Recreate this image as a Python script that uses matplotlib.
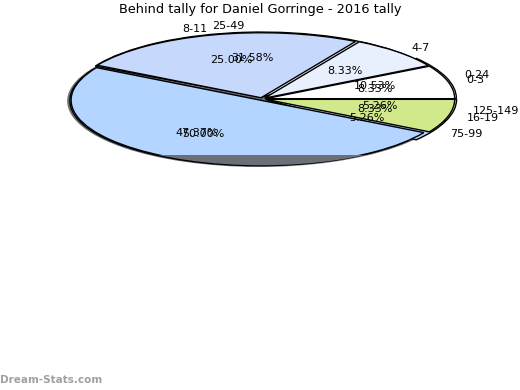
import matplotlib
matplotlib.use("Agg")
import matplotlib.pyplot as plt
from matplotlib.patches import Ellipse, Rectangle

# two tallies drawn on the same pie, as in the source image
labels_a = ["0-3", "4-7", "8-11", "", "16-19"]
values_a = [8.33, 8.33, 25.00, 50.00, 8.33]
labels_b = ["0-24", "25-49", "", "75-99", "125-149"]
values_b = [10.53, 31.58, 47.37, 5.26, 5.26]
colors = ["#ffffff", "#e9f0fd", "#c6d9fd", "#b3d5ff", "#d1e98a"]
title = "Behind tally for Daniel Gorringe - 2016 tally"

W, H = 520, 390
cx, cy = 262, 99      # pie centre, pixels from top-left
rx, ry = 189, 65      # ellipse radii in pixels

fig = plt.figure(figsize=(W / 100, H / 100), dpi=100)
ax = fig.add_axes([0, 0, 1, 1])

# drop shadow under the pie
shadow = Ellipse((-3 / rx, -2 / ry), 2.03, 2.03, facecolor="#6b7078", edgecolor="none", zorder=0)
ax.add_patch(shadow)

wedge_kw = dict(edgecolor="black", linewidth=1)
text_kw = dict(fontsize=8, color="black")

ax.pie(values_b, labels=labels_b, colors=colors, startangle=0, counterclock=True,
       autopct="%.2f%%", pctdistance=0.6, labeldistance=1.1, radius=1,
       explode=[0.03] * 5, wedgeprops=wedge_kw, textprops=text_kw, frame=True)
ax.pie(values_a, labels=labels_a, colors=colors, startangle=0, counterclock=True,
       autopct="%.2f%%", pctdistance=0.6, labeldistance=1.1, radius=1,
       explode=[0.02] * 5, wedgeprops=wedge_kw, textprops=text_kw, frame=True)

# dark depth band at the bottom of the pie
band = Rectangle((-1.2, -1.2), 2.4, 1.2 - (155 - cy) / ry, facecolor="#6b7078",
                 edgecolor="none", zorder=2)
ax.add_patch(band)
band.set_clip_path(Ellipse((0, 0), 2.04, 2.04, transform=ax.transData))

ax.set_xlim(-cx / rx, (W - cx) / rx)
ax.set_ylim(-(H - cy) / ry, cy / ry)
ax.set_aspect("auto")
ax.axis("off")

fig.text(0.5, 1 - 10 / H, title, ha="center", va="center", fontsize=9.3)
fig.text(0, 1 - 380 / H, "Dream-Stats.com", ha="left", va="center",
         fontsize=7.5, color="#a0a0a0", fontweight="bold")

fig.savefig("out.png", dpi=100)
